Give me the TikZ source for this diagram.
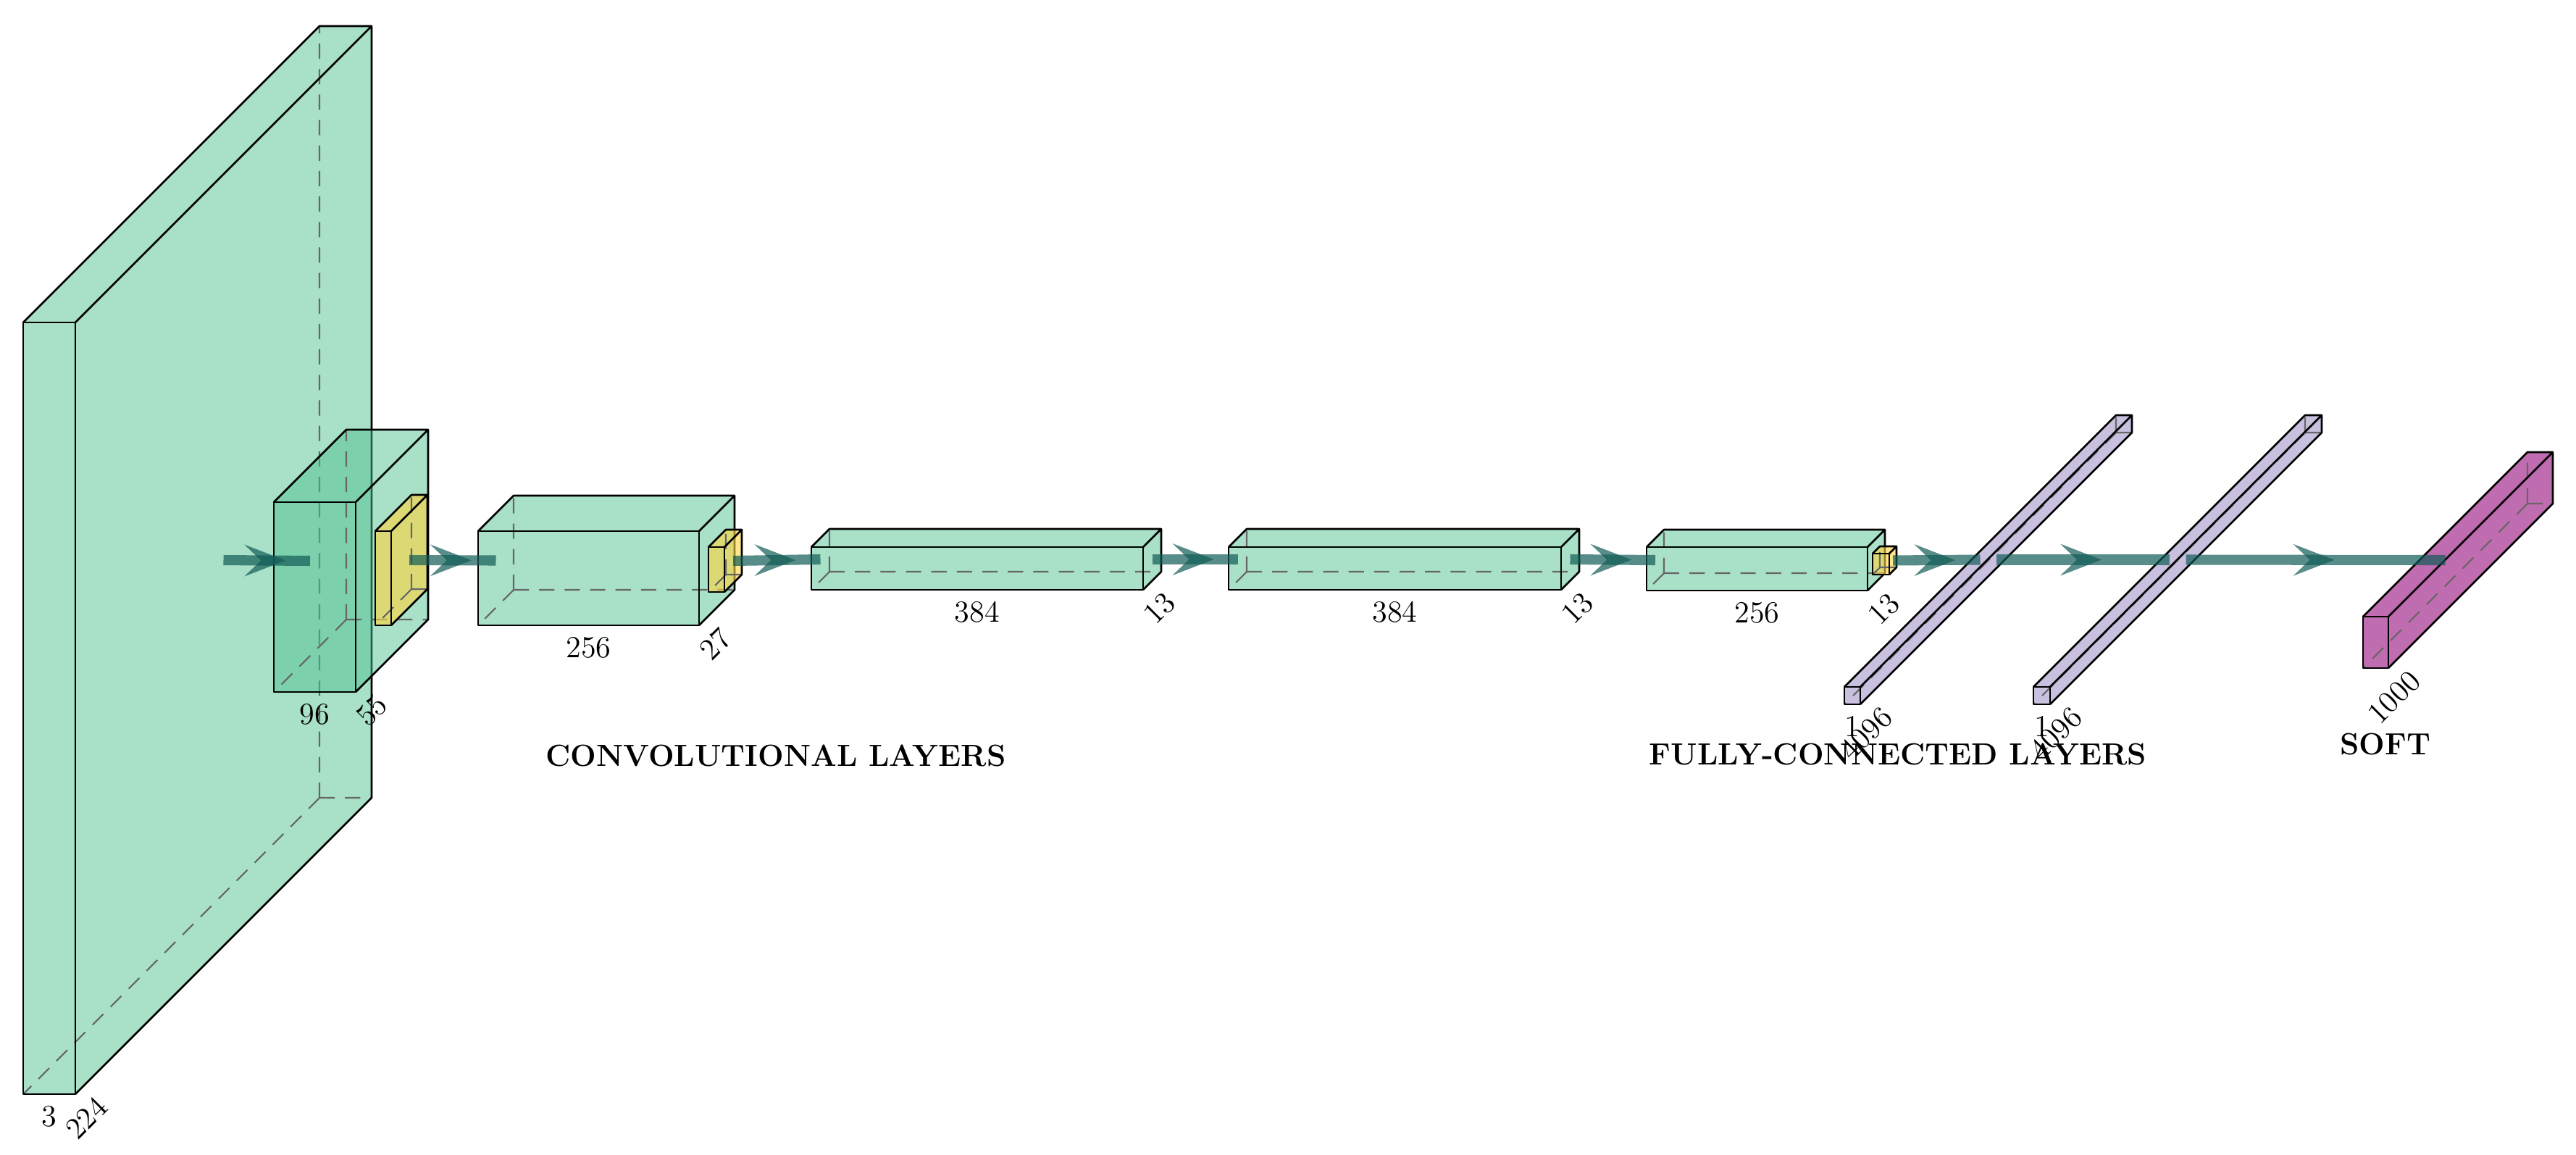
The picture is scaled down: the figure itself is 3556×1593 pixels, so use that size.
\documentclass[tikz,border=0pt]{standalone}
\usetikzlibrary{calc}
\definecolor{convc}{RGB}{81,193,145}
\definecolor{poolc}{RGB}{255,213,63}
\definecolor{fcc}{RGB}{145,129,189}
\definecolor{softc}{RGB}{165,45,142}
\definecolor{connc}{RGB}{17,91,86}
\tikzset{
  edge/.style={black,line width=0.75pt,line join=round},
  hidden/.style={black!60,line width=0.6pt,dash pattern=on 6pt off 4pt},
  conv/.style={fill=convc,fill opacity=0.5},
  pool/.style={fill=poolc,fill opacity=0.6},
  fc/.style={fill=fcc,fill opacity=0.5},
  soft/.style={fill=softc,fill opacity=0.7},
  conn/.style={connc,opacity=0.7,line width=4pt},
  head/.style={fill=connc,fill opacity=0.7},
  lab/.style={font=\fontsize{12}{14}\selectfont,inner sep=1pt},
  title/.style={font=\fontsize{12}{14}\selectfont\bfseries,inner sep=1pt}
}
% name, x0, ytop, x1, ybot, depth, style
\newcommand\cuboid[7]{%
  \coordinate (#1-a) at (#2,#5);
  \coordinate (#1-b) at (#4,#5);
  \coordinate (#1-c) at (#4,#3);
  \coordinate (#1-d) at (#2,#3);
  \coordinate (#1-A) at ($(#1-a)+(#6,-#6)$);
  \coordinate (#1-B) at ($(#1-b)+(#6,-#6)$);
  \coordinate (#1-C) at ($(#1-c)+(#6,-#6)$);
  \coordinate (#1-D) at ($(#1-d)+(#6,-#6)$);
  \fill[#7] (#1-a) -- (#1-b) -- (#1-c) -- (#1-d) -- cycle;
  \fill[#7] (#1-d) -- (#1-c) -- (#1-C) -- (#1-D) -- cycle;
  \fill[#7] (#1-b) -- (#1-B) -- (#1-C) -- (#1-c) -- cycle;
  \draw[hidden] (#1-A) -- (#1-a) (#1-A) -- (#1-D) (#1-A) -- (#1-B);
  \draw[edge] (#1-a) -- (#1-b) -- (#1-c) -- (#1-d) -- cycle;
  \draw[edge] (#1-d) -- (#1-D) -- (#1-C) -- (#1-c) (#1-C) -- (#1-B) -- (#1-b);
  \coordinate (#1-west) at ($(#1-a)!.5!(#1-d)+(#6/2,-#6/2)$);
  \coordinate (#1-east) at ($(#1-b)!.5!(#1-c)+(#6/2,-#6/2)$);
}
\newcommand\xlab[2]{\node[lab,anchor=north] (#1-xl) at ($(#1-a)!.5!(#1-b)+(0,12)$) {#2};}
\newcommand\zlab[2]{\node[lab,rotate=45,anchor=east] (#1-zl) at ($(#1-b)+(40,8)$) {#2};}
\newcommand\conn[2]{%
  \draw[conn] (#1-east) -- coordinate[pos=.5] (#1-m) (#2-west);
  \fill[head] ($(#1-m)+(26,0)$) -- ++(-57,22) -- ++(23,-22) -- ++(-23,-22) -- cycle;
}
\begin{document}
\begin{tikzpicture}[x=0.01cm,y=-0.01cm]
\useasboundingbox (0,0) rectangle (3556,1593);
\cuboid{in}{32}{445}{104}{1510}{409}{conv}
\xlab{in}{3}\zlab{in}{224}
\cuboid{c1}{378}{693}{491}{955}{100}{conv}
\xlab{c1}{96}\zlab{c1}{55}
\cuboid{p1}{518}{733}{540}{863}{50}{pool}
\cuboid{c2}{660}{733}{965}{863}{49}{conv}
\xlab{c2}{256}\zlab{c2}{27}
\cuboid{p2}{978}{755}{1000}{817}{24}{pool}
\cuboid{c3}{1120}{755}{1578}{814}{25}{conv}
\xlab{c3}{384}\zlab{c3}{13}
\cuboid{c4}{1696}{755}{2155}{814}{25}{conv}
\xlab{c4}{384}\zlab{c4}{13}
\cuboid{c5}{2273}{755}{2578}{815}{24}{conv}
\xlab{c5}{256}\zlab{c5}{13}
\cuboid{p3}{2585}{764}{2608}{793}{10}{pool}
\cuboid{f1}{2546}{948}{2568}{972}{375}{fc}
\xlab{f1}{1}\zlab{f1}{4096}
\cuboid{f2}{2807}{948}{2830}{972}{375}{fc}
\xlab{f2}{1}\zlab{f2}{4096}
\cuboid{sm}{3262}{851}{3297}{922}{227}{soft}
\zlab{sm}{1000}
\conn{in}{c1}
\conn{p1}{c2}
\conn{p2}{c3}
\conn{c3}{c4}
\conn{c4}{c5}
\conn{p3}{f1}
\conn{f1}{f2}
\conn{f2}{sm}
\node[title] (t1) at (1071,1043) {CONVOLUTIONAL LAYERS};
\node[title] (t2) at (2620,1041) {FULLY-CONNECTED LAYERS};
\node[title] (t3) at (3293,1027) {SOFT};
\end{tikzpicture}
\end{document}
